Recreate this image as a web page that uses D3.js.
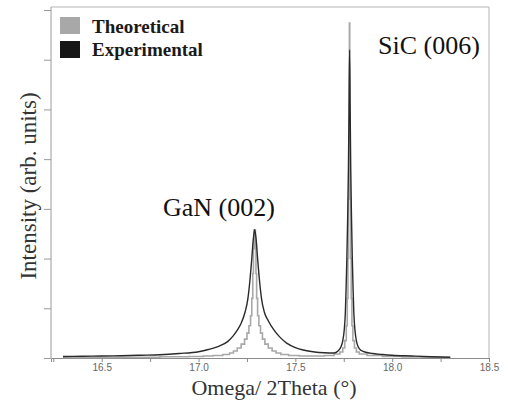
<!DOCTYPE html>
<html>
<head>
<meta charset="utf-8">
<script src="https://cdn.jsdelivr.net/npm/d3@7"></script>
<style>
  body { margin: 0; background: #fff; }
  svg { display: block; }
</style>
</head>
<body>
<div id="chart"></div>
<script>
// tick values on the x axis (degrees)
const xTickLabels = [16.5, 17.0, 17.5, 18.0, 18.5];
const xMinorTicks = [16.25, 16.5, 16.75, 17.0, 17.25, 17.5, 17.75, 18.0, 18.25, 18.5];
const yTicks = [0, 1, 2, 3, 4, 5, 6, 7];

// series: [omega/2theta, intensity (arb.)]
const experimental = [
  [16.30, 0.03], [16.40, 0.035], [16.50, 0.04], [16.60, 0.045], [16.70, 0.055],
  [16.80, 0.065], [16.90, 0.09], [17.00, 0.127], [17.05, 0.17], [17.10, 0.23],
  [17.15, 0.33], [17.18, 0.45], [17.20, 0.56], [17.22, 0.70], [17.24, 0.92],
  [17.255, 1.2], [17.265, 1.55], [17.275, 2.0], [17.283, 2.4], [17.29, 2.58],
  [17.297, 2.4], [17.305, 2.0], [17.315, 1.55], [17.325, 1.2], [17.34, 0.92],
  [17.36, 0.75], [17.39, 0.56], [17.42, 0.42], [17.455, 0.30], [17.50, 0.21],
  [17.54, 0.16], [17.60, 0.12], [17.65, 0.105], [17.70, 0.10], [17.72, 0.14],
  [17.735, 0.22], [17.745, 0.35], [17.752, 0.55], [17.758, 0.9], [17.762, 1.4],
  [17.766, 2.0], [17.77, 2.8], [17.774, 3.8], [17.777, 5.0], [17.78, 6.2],
  [17.783, 5.0], [17.786, 3.8], [17.79, 2.8], [17.794, 2.0], [17.798, 1.4],
  [17.802, 0.9], [17.808, 0.55], [17.815, 0.35], [17.825, 0.22], [17.84, 0.15],
  [17.87, 0.11], [17.90, 0.09], [17.95, 0.07], [18.00, 0.055], [18.10, 0.04],
  [18.20, 0.025], [18.30, 0.015]
];

const theoretical = [
  [16.30, 0.01], [16.50, 0.012], [16.70, 0.015], [16.90, 0.025], [17.00, 0.03],
  [17.05, 0.04], [17.10, 0.05], [17.15, 0.07], [17.17, 0.10], [17.19, 0.14],
  [17.21, 0.20], [17.23, 0.28], [17.245, 0.38], [17.255, 0.50], [17.265, 0.65],
  [17.272, 0.85], [17.278, 1.2], [17.282, 1.7], [17.285, 2.2], [17.288, 2.58],
  [17.292, 2.58], [17.295, 2.2], [17.298, 1.7], [17.302, 1.2], [17.308, 0.85],
  [17.315, 0.65], [17.325, 0.50], [17.335, 0.38], [17.35, 0.28], [17.37, 0.20],
  [17.39, 0.14], [17.41, 0.10], [17.44, 0.07], [17.49, 0.05], [17.55, 0.04],
  [17.62, 0.04], [17.68, 0.05], [17.72, 0.08], [17.74, 0.12], [17.75, 0.2],
  [17.76, 0.35], [17.766, 0.65], [17.77, 1.2], [17.773, 2.0], [17.776, 3.2],
  [17.778, 4.5], [17.78, 6.74], [17.782, 4.5], [17.784, 3.2], [17.787, 2.0],
  [17.79, 1.2], [17.794, 0.65], [17.80, 0.35], [17.81, 0.2], [17.82, 0.12],
  [17.84, 0.08], [17.90, 0.05], [18.00, 0.03], [18.10, 0.02], [18.20, 0.015],
  [18.30, 0.01]
];

const legendItems = ["Theoretical", "Experimental"];
const legendColors = ["#a8a8a8", "#161616"];

// set the dimensions and margins of the graph
var width = 508, height = 401;
var margin = {top: 10, right: 19, bottom: 43, left: 51};

var svg = d3.select("#chart")
  .append("svg")
    .attr("width", width)
    .attr("height", height);

var x = d3.scaleLinear()
  .domain([16.238, 18.5])
  .range([margin.left, width - margin.right]);

var y = d3.scaleLinear()
  .domain([0, 7])
  .range([height - margin.bottom, margin.top]);

// frame (top and right borders)
svg.append("path")
  .attr("d", "M" + x(16.238) + "," + (margin.top - 3) + "H" + x(18.5) + "V" + y(0))
  .attr("fill", "none")
  .attr("stroke", "#b5b5b5")
  .attr("stroke-width", 1);

// y axis: ticks only
var yAxis = svg.append("g")
  .attr("transform", "translate(" + margin.left + ",0)")
  .call(d3.axisLeft(y).tickValues(yTicks).tickSize(7).tickFormat(""));
yAxis.select(".domain").attr("stroke", "#9a9a9a").attr("d", "M0," + (margin.top - 3) + "V" + y(0));
yAxis.selectAll(".tick line").attr("stroke", "#9a9a9a");

// x axis
var xAxis = svg.append("g")
  .attr("transform", "translate(0," + y(0) + ")")
  .call(d3.axisBottom(x).tickValues(xMinorTicks).tickSize(4).tickPadding(2)
    .tickFormat(d => xTickLabels.includes(d) ? d3.format(".1f")(d) : ""));
xAxis.select(".domain").attr("stroke", "#8a8a8a");
xAxis.selectAll(".tick line").attr("stroke", "#8a8a8a");
xAxis.selectAll(".tick text")
  .attr("fill", "#666")
  .style("font-family", "Liberation Sans, Arial, sans-serif")
  .style("font-size", "10px");

// lines
var lineTheo = d3.line()
  .x(d => x(d[0]))
  .y(d => y(d[1]))
  .curve(d3.curveStep);

var lineExp = d3.line()
  .x(d => x(d[0]))
  .y(d => y(d[1]))
  .curve(d3.curveMonotoneX);

svg.append("path")
  .datum(theoretical)
  .attr("fill", "none")
  .attr("stroke", legendColors[0])
  .attr("stroke-width", 1.6)
  .attr("d", lineTheo);

svg.append("path")
  .datum(experimental)
  .attr("fill", "none")
  .attr("stroke", "#2a2a2a")
  .attr("stroke-width", 1.4)
  .attr("d", lineExp);

// legend
var legend = svg.append("g");
legend.selectAll("rect")
  .data(legendItems)
  .enter()
  .append("rect")
    .attr("x", 60)
    .attr("y", (d, i) => 17 + i * 24)
    .attr("width", 20)
    .attr("height", 17)
    .attr("fill", (d, i) => legendColors[i]);
legend.selectAll("text")
  .data(legendItems)
  .enter()
  .append("text")
    .attr("x", 92)
    .attr("y", (d, i) => 33 + i * 23)
    .style("font-family", "Liberation Serif, Times New Roman, serif")
    .style("font-weight", "bold")
    .style("font-size", "19px")
    .attr("fill", "#1a1a1a")
    .text(d => d);

// peak labels
svg.append("text")
  .attr("x", 163)
  .attr("y", 216)
  .style("font-family", "Liberation Serif, Times New Roman, serif")
  .style("font-size", "26px")
  .attr("fill", "#111")
  .text("GaN (002)");

svg.append("text")
  .attr("x", 378)
  .attr("y", 54)
  .style("font-family", "Liberation Serif, Times New Roman, serif")
  .style("font-size", "26px")
  .attr("fill", "#111")
  .text("SiC (006)");

// axis titles
svg.append("text")
  .attr("x", 274)
  .attr("y", 395)
  .attr("text-anchor", "middle")
  .style("font-family", "Liberation Serif, Times New Roman, serif")
  .style("font-size", "22px")
  .attr("fill", "#333")
  .text("Omega/ 2Theta (°)");

svg.append("text")
  .attr("transform", "translate(36,186) rotate(-90)")
  .attr("text-anchor", "middle")
  .style("font-family", "Liberation Serif, Times New Roman, serif")
  .style("font-size", "23px")
  .attr("fill", "#333")
  .text("Intensity (arb. units)");
</script>
</body>
</html>
